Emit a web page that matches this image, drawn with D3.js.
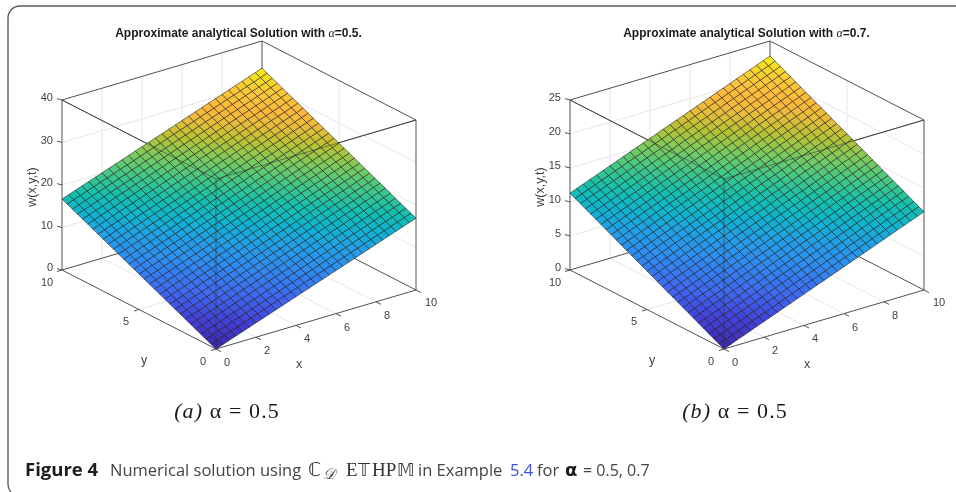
<!DOCTYPE html>
<html>
<head>
<meta charset="utf-8">
<script src="https://cdn.jsdelivr.net/npm/d3@7"></script>
<style>
html,body{margin:0;padding:0;background:#fff;}
svg{display:block;filter:blur(0.45px);}
</style>
</head>
<body>
<script>
// the surface has no visible bend so a node is edge(x) + edge(y)
const wEdgeXa=[0,.56,1.13,1.69,2.25,2.82,3.38,3.94,4.51,5.07,5.63,6.2,6.76,7.32,7.89,8.45,9.01,9.58,10.14,10.7,11.27,11.83,12.39,12.96,13.52,14.08,14.65,15.21,15.77,16.34,16.9]
const wEdgeYa=[0,.56,1.11,1.67,2.23,2.78,3.34,3.9,4.45,5.01,5.57,6.12,6.68,7.24,7.79,8.35,8.91,9.46,10.02,10.58,11.13,11.69,12.25,12.8,13.36,13.92,14.47,15.03,15.59,16.14,16.7]
const wEdgeXb=[0,.38,.77,1.15,1.53,1.92,2.3,2.68,3.07,3.45,3.83,4.22,4.6,4.98,5.37,5.75,6.13,6.52,6.9,7.28,7.67,8.05,8.43,8.82,9.2,9.58,9.97,10.35,10.73,11.12,11.5]
const wEdgeYb=[0,.38,.75,1.13,1.51,1.88,2.26,2.64,3.01,3.39,3.77,4.14,4.52,4.9,5.27,5.65,6.03,6.4,6.78,7.16,7.53,7.91,8.29,8.66,9.04,9.42,9.79,10.17,10.55,10.92,11.3]

const xTicks=[0,2,4,6,8,10]
const yTicks=[0,5,10]
const zTicksA=[0,10,20,30,40]
const zTicksB=[0,5,10,15,20,25]

// colours sampled up the middle of the surface, parula like
const parulaStops=[0,.1,.2,.3,.38,.45,.52,.6,.66,.74,.8,.85,.92,.97,1]
const parulaColors=["#3d27a6","#4340d8","#3f6af0","#2f8bf0","#239fe6","#10b3cf","#15bfae","#45c785","#74cb62","#b9c234","#e8bc3a","#fdb83c","#fbc83a","#f8e020","#f9f313"]

const svg=d3.select("body").append("svg").attr("width",956).attr("height",492)
const sans="'Liberation Sans',Arial,sans-serif"
const serif="'Liberation Serif',serif"
const capFont="'Open Sans',sans-serif"

// card outline
svg.append("path")
  .attr("d","M956,6 H20 A12,12 0 0 0 8,18 V484 Q8,489 11,492")
  .attr("fill","none").attr("stroke","#5a5a5a").attr("stroke-width",1.4)

function panel(ox,wx,wy,zTicks,alpha,subLabel,subX){
  const g=svg.append("g")
  const u=d3.scaleLinear().domain([0,10]).range([0,1])
  const w=d3.scaleLinear().domain([0,d3.max(zTicks)]).range([0,170])
  const node=d3.scaleLinear().domain([0,wx.length-1]).range([0,10])
  const color=d3.scaleLinear().domain(parulaStops.map(s=>s*(wx[wx.length-1]+wy[wy.length-1]))).range(parulaColors).interpolate(d3.interpolateRgb)
  const oy=349
  const p=(x,y,z)=>[ox+200*u(x)-154*u(y),oy-59*u(x)-79*u(y)-w(z)]
  const line=d3.line()
  const zTop=d3.max(zTicks)

  // back walls and floor grid
  const grid=[]
  xTicks.filter(t=>t>0&&t<10).forEach(t=>{
    grid.push([p(t,10,0),p(t,10,zTop)])
    grid.push([p(t,0,0),p(t,10,0)])
  })
  yTicks.filter(t=>t>0&&t<10).forEach(t=>{
    grid.push([p(10,t,0),p(10,t,zTop)])
    grid.push([p(0,t,0),p(10,t,0)])
  })
  zTicks.filter(t=>t>0&&t<zTop).forEach(t=>{
    grid.push([p(0,10,t),p(10,10,t)])
    grid.push([p(10,10,t),p(10,0,t)])
  })
  g.selectAll(".grid").data(grid).enter().append("path").attr("class","grid")
    .attr("d",line).attr("fill","none").attr("stroke","#e4e4e4").attr("stroke-width",.9)

  // box edges behind the surface
  const box=[
    [p(0,10,zTop),p(10,10,zTop),p(10,0,zTop)],
    [p(0,10,zTop),p(0,0,zTop),p(10,0,zTop)],
    [p(0,10,0),p(0,10,zTop)],
    [p(10,0,0),p(10,0,zTop)],
    [p(10,10,0),p(10,10,zTop)],
    [p(0,0,0),p(0,0,zTop)],
    [p(0,10,0),p(10,10,0),p(10,0,0)],
    [p(0,10,0),p(0,0,0),p(10,0,0)]
  ]
  g.selectAll(".box").data(box).enter().append("path").attr("class","box")
    .attr("d",line).attr("fill","none").attr("stroke","#505050").attr("stroke-width",1)

  // surface, one path per mesh cell
  const cells=[]
  d3.range(wx.length-1).forEach(i=>{
    d3.range(wy.length-1).forEach(j=>{
      const c=[[i,j],[i+1,j],[i+1,j+1],[i,j+1]]
      cells.push({
        pts:c.map(([a,b])=>p(node(a),node(b),wx[a]+wy[b])),
        val:d3.mean(c,([a,b])=>wx[a]+wy[b])
      })
    })
  })
  g.selectAll(".cell").data(cells).enter().append("path").attr("class","cell")
    .attr("d",d=>line(d.pts)+"Z")
    .attr("fill",d=>color(d.val))
    .attr("stroke","#101010").attr("stroke-opacity",.75).attr("stroke-width",.7)

  // front box edges show faintly over the surface
  const front=[
    [p(0,10,zTop),p(0,0,zTop),p(10,0,zTop)],
    [p(0,0,0),p(0,0,zTop)]
  ]
  g.selectAll(".front").data(front).enter().append("path").attr("class","front")
    .attr("d",line).attr("fill","none").attr("stroke","#333").attr("stroke-opacity",.6).attr("stroke-width",.9)

  // ticks
  const tick=(a,dx,dy)=>g.append("line")
    .attr("x1",a[0]).attr("y1",a[1]).attr("x2",a[0]+dx).attr("y2",a[1]+dy)
    .attr("stroke","#505050").attr("stroke-width",1)
  const label=(txt,x,y,anchor,size)=>g.append("text").text(txt)
    .attr("x",x).attr("y",y).attr("text-anchor",anchor||"middle")
    .attr("dominant-baseline","central")
    .attr("font-family",sans).attr("font-size",size||11).attr("fill","#404040")

  zTicks.forEach(t=>{
    const a=p(0,10,t)
    tick(a,-5,-1.4)
    label(t,a[0]-9,a[1]-3,"end")
  })
  xTicks.forEach(t=>{
    const a=p(t,0,0)
    tick(a,5,2.6)
    label(t,a[0]+(t==10?15:11),a[1]+(t==10?12:13))
  })
  yTicks.forEach(t=>{
    const a=p(0,t,0)
    tick(a,-5,1.5)
    label(t,a[0]+(t==10?-15:-13),a[1]+(t==10?12:11.5))
  })

  // axis labels
  label("x",ox+83,364,"middle",12.5)
  label("y",ox-72,360,"middle",12.5)
  g.append("text").text("w(x,y,t)")
    .attr("transform","translate("+(ox-184)+",187) rotate(-90)")
    .attr("text-anchor","middle").attr("dominant-baseline","central")
    .attr("font-family",sans).attr("font-size",12.5).attr("fill","#404040")

  // title
  const title=g.append("text").attr("x",ox+22.5).attr("y",33)
    .attr("text-anchor","middle").attr("dominant-baseline","central")
    .attr("font-family",sans).attr("font-size",12).attr("font-weight","bold").attr("fill","#1a1a1a")
  title.append("tspan").text("Approximate analytical Solution with ")
  title.append("tspan").text("α").attr("font-family",serif).attr("font-style","italic").attr("font-weight","normal")
  title.append("tspan").text("="+alpha+".")

  // sub caption
  const sub=g.append("text").attr("x",subX).attr("y",418)
    .attr("text-anchor","middle")
    .attr("font-family",serif).attr("font-size",22).attr("letter-spacing",1.1).attr("fill","#1a1a1a")
  sub.append("tspan").text(subLabel).attr("font-style","italic")
  sub.append("tspan").text(" α = 0.5")
}

panel(216,wEdgeXa,wEdgeYa,zTicksA,0.5,"(a)",227)
panel(724,wEdgeXb,wEdgeYb,zTicksB,0.7,"(b)",735)

// figure caption, pieces placed one by one
const capY=476
const cap=(txt,x,o)=>{
  o=o||{}
  return svg.append("text").text(txt).attr("x",x).attr("y",o.y||capY)
    .attr("font-family",o.font||capFont).attr("font-size",o.size||16.5)
    .attr("font-weight",o.weight||"normal").attr("font-style",o.style||"normal")
    .attr("fill",o.fill||"#444")
}
cap("Figure 4",25,{weight:"bold",fill:"#1c1c1c",size:18.5})
cap("Numerical solution using",110,{})
cap("ℂ",308,{font:"'DejaVu Sans'",size:19,fill:"#333"})
cap("𝒟",323,{font:"'DejaVu Serif','Noto Sans'",size:15,y:479,style:"italic",fill:"#333"})
cap("E",346,{font:serif,size:19,fill:"#333"})
cap("𝕋",358,{font:"'DejaVu Sans'",size:17,fill:"#333"})
cap("HP",372,{font:serif,size:19,fill:"#333"})
cap("𝕄",397,{font:"'DejaVu Sans'",size:17,fill:"#333"})
cap("in Example",418,{})
cap("5.4",510,{fill:"#3b4fe0"})
cap("for",537,{})
cap("α",565,{weight:"bold",fill:"#1c1c1c",font:"'DejaVu Sans'",size:18})
cap("= 0.5, 0.7",583,{size:16})
</script>
</body>
</html>
